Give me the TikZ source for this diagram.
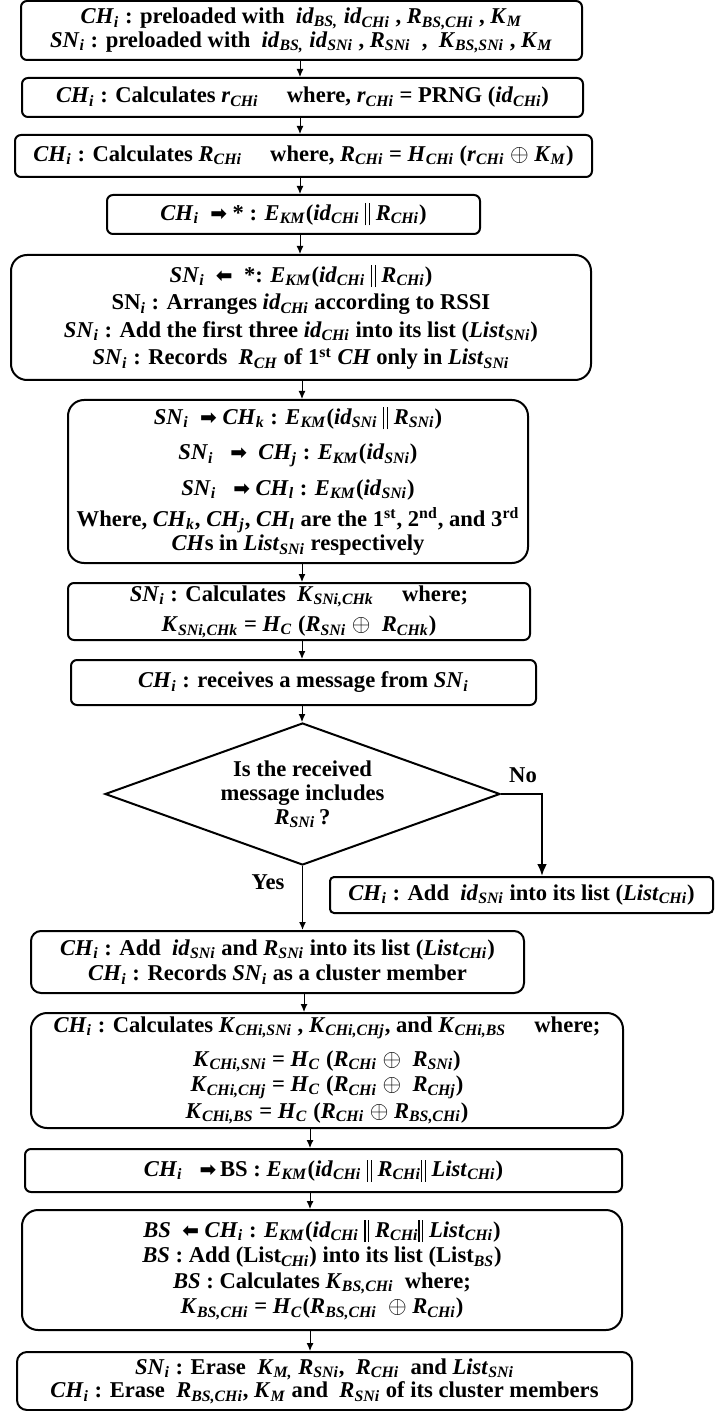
\documentclass[tikz,border=0pt]{standalone}
\usepackage{fontspec}
\setmainfont{Liberation Serif}
\newfontfamily\dejavu{DejaVu Sans}
\usepackage{tikz}
\usetikzlibrary{shapes.geometric, arrows.meta}
\tikzstyle{box} = [rectangle, rounded corners=3pt, draw=black, line width=1pt, align=center, inner sep=0pt, font=\bfseries\fontsize{11.3}{11.8}\selectfont]
\tikzstyle{bigbox} = [box, rounded corners=8pt]
\tikzstyle{decision} = [diamond, aspect=2.78, draw=black, line width=1pt, align=center, inner sep=0pt, font=\bfseries\fontsize{11.3}{12}\selectfont]
\tikzstyle{arrow} = [line width=0.5pt,-{Latex[length=4pt,width=3.5pt]}]
\tikzstyle{noarrow} = [line width=1.2pt,-{Latex[length=6pt,width=5pt]}]
\tikzstyle{answer} = [font=\bfseries\fontsize{11.3}{12}\selectfont]
\newcommand{\vx}[2]{\textit{#1}\textsubscript{\textit{#2}}}
\newcommand{\sendto}{{\dejavu\fontsize{10}{10}\selectfont ➡}}
\newcommand{\recvfrom}{{\dejavu\fontsize{10}{10}\selectfont ⬅}}
\newcommand{\xor}{{\large$\oplus$}}
\newcommand{\cat}{\rule[-2.5pt]{0.6pt}{11pt}\hspace{1.3pt}\rule[-2.5pt]{0.6pt}{11pt}}

\begin{document}
\begin{tikzpicture}[x=0.5pt,y=-0.5pt]
\useasboundingbox (0,0) rectangle (715,1411);
\node (b1) [box, minimum width=280.5pt, minimum height=29.5pt] at (301.5,30.5)
{\vx{CH}{i} : preloaded with \ \vx{id}{BS,} \vx{id}{CHi} , \vx{R}{BS,CHi} , \vx{K}{M}\\
\vx{SN}{i} : preloaded with \ \vx{id}{BS,} \vx{id}{SNi} , \vx{R}{SNi} \ , \ \vx{K}{BS,SNi} , \vx{K}{M}};
\node (b2) [box, minimum width=280.5pt, minimum height=19.5pt] at (302.5,97.5)
{\vx{CH}{i} : Calculates \vx{r}{CHi} \quad where, \vx{r}{CHi} = PRNG (\vx{id}{CHi})};
\node (b3) [box, minimum width=288.5pt, minimum height=21pt] at (303.5,156)
{\vx{CH}{i} : Calculates \vx{R}{CHi} \quad where, \vx{R}{CHi} = \vx{H}{CHi} (\vx{r}{CHi} \xor\ \vx{K}{M})};
\node (b4) [box, minimum width=186.5pt, minimum height=19.5pt] at (293.5,214.5)
{\vx{CH}{i} \ \sendto\ * : \vx{E}{KM}(\vx{id}{CHi} \cat\ \vx{R}{CHi})};
\node (b5) [bigbox, minimum width=290pt, minimum height=62.5pt] at (301,317.5)
{\vx{SN}{i} \ \recvfrom\ \ *: \vx{E}{KM}(\vx{id}{CHi} \cat\ \vx{R}{CHi})\\[2pt]
SN\textsubscript{\textit{i}} : Arranges \vx{id}{CHi} according to RSSI\\[2pt]
\vx{SN}{i} : Add the first three \vx{id}{CHi} into its list (\vx{List}{SNi})\\[2pt]
\vx{SN}{i} : Records \ \vx{R}{CH} of 1\textsuperscript{st} \textit{CH} only in \vx{List}{SNi}};
\node (b6) [bigbox, minimum width=230pt, minimum height=81.5pt] at (298,481.5)
{\vx{SN}{i} \ \sendto\ \vx{CH}{k} : \vx{E}{KM}(\vx{id}{SNi} \cat\ \vx{R}{SNi})\\[6pt]
\vx{SN}{i} \ \ \sendto\ \ \vx{CH}{j} : \vx{E}{KM}(\vx{id}{SNi})\\[6pt]
\vx{SN}{i} \ \ \sendto\ \vx{CH}{l} : \vx{E}{KM}(\vx{id}{SNi})\\[2.5pt]
Where, \vx{CH}{k}, \vx{CH}{j}, \vx{CH}{l} are the 1\textsuperscript{st}, 2\textsuperscript{nd}, and 3\textsuperscript{rd}\\[0.5pt]
\textit{CH}s in \vx{List}{SNi} respectively};
\node (b7) [box, minimum width=231pt, minimum height=28.5pt] at (299,611.5)
{\vx{SN}{i} : Calculates \ \vx{K}{SNi,CHk} \quad where;\\[3.5pt]
\vx{K}{SNi,CHk} = \vx{H}{C} (\vx{R}{SNi} \xor\ \ \vx{R}{CHk})};
\node (b8) [box, minimum width=232.5pt, minimum height=22.5pt] at (303.5,682.5)
{\vx{CH}{i} : receives a message from \vx{SN}{i}};
\node (dec) [decision, minimum width=197.5pt, minimum height=71pt] at (302.5,794)
{Is the received\\ message includes\\ \vx{R}{SNi}\,?};
\node (bno) [box, rounded corners=2pt, minimum width=191.5pt, minimum height=18pt] at (521.5,895)
{\vx{CH}{i} : Add \ \vx{id}{SNi} into its list (\vx{List}{CHi})};
\node (b9) [box, rounded corners=5pt, minimum width=246.5pt, minimum height=31pt] at (277.5,962)
{\vx{CH}{i} : Add \ \vx{id}{SNi} and \vx{R}{SNi} into its list (\vx{List}{CHi})\\[1pt]
\vx{CH}{i} : Records \vx{SN}{i} as a cluster member};
\node (b10) [bigbox, minimum width=296pt, minimum height=57.5pt] at (327,1070.5)
{\vx{CH}{i} : Calculates \vx{K}{CHi,SNi} , \vx{K}{CHi,CHj}, and \vx{K}{CHi,BS} \quad where;\\[5pt]
\vx{K}{CHi,SNi} = \vx{H}{C} (\vx{R}{CHi} \xor\ \ \vx{R}{SNi})\\[1pt]
\vx{K}{CHi,CHj} = \vx{H}{C} (\vx{R}{CHi} \xor\ \ \vx{R}{CHj})\\[1.5pt]
\vx{K}{CHi,BS} = \vx{H}{C} (\vx{R}{CHi} \xor\ \vx{R}{BS,CHi})};
\node (b11) [box, minimum width=298.5pt, minimum height=21.5pt] at (323.5,1170.5)
{\vx{CH}{i} \ \ \sendto\,BS : \vx{E}{KM}(\vx{id}{CHi} \cat\ \vx{R}{CHi}\cat\ \vx{List}{CHi})};
\node (b12) [bigbox, minimum width=300pt, minimum height=60pt] at (322,1270)
{\textit{BS} \ \recvfrom\ \vx{CH}{i} : \vx{E}{KM}(\vx{id}{CHi} \cat\ \vx{R}{CHi}\cat\ \vx{List}{CHi})\\[1pt]
\textit{BS} : Add (List\textsubscript{\textit{CHi}}) into its list (List\textsubscript{\textit{BS}})\\[1pt]
\textit{BS} : Calculates \vx{K}{BS,CHi} \ where;\\[1pt]
\vx{K}{BS,CHi} = \vx{H}{C}(\vx{R}{BS,CHi} \ \xor\ \vx{R}{CHi})};
\node (b13) [box, rounded corners=5pt, minimum width=307.5pt, minimum height=29pt] at (324.5,1381)
{\vx{SN}{i} : Erase \ \vx{K}{M,} \vx{R}{SNi}, \ \vx{R}{CHi} \ and \vx{List}{SNi}\\
\vx{CH}{i} : Erase \ \vx{R}{BS,CHi}, \vx{K}{M} and \ \vx{R}{SNi} of its cluster members};
% spine of the flow
\coordinate (spA) at (300,0);
\coordinate (spB) at (302,0);
\coordinate (spC) at (304,0);
\coordinate (spD) at (310,0);
\coordinate (nocorner) at (542,794);
\foreach \a/\b/\s in {b1/b2/spA, b2/b3/spA, b3/b4/spA, b4/b5/spA, b5/b6/spB, b6/b7/spB, b7/b8/spB, b8/dec/spB, b9/b10/spC, b10/b11/spD, b11/b12/spD, b12/b13/spD}
  \draw[arrow] (\a.south -| \s) -- (\b.north -| \s);
\draw[arrow, line width=0.7pt] (dec.south) -- (dec.south |- b9.north);
\draw[noarrow] (dec.east) -- (nocorner) -- (nocorner |- bno.north);
\node (no) [answer] at (523,775) {No};
\node (yes) [answer] at (268,882) {Yes};
\end{tikzpicture}
\end{document}
